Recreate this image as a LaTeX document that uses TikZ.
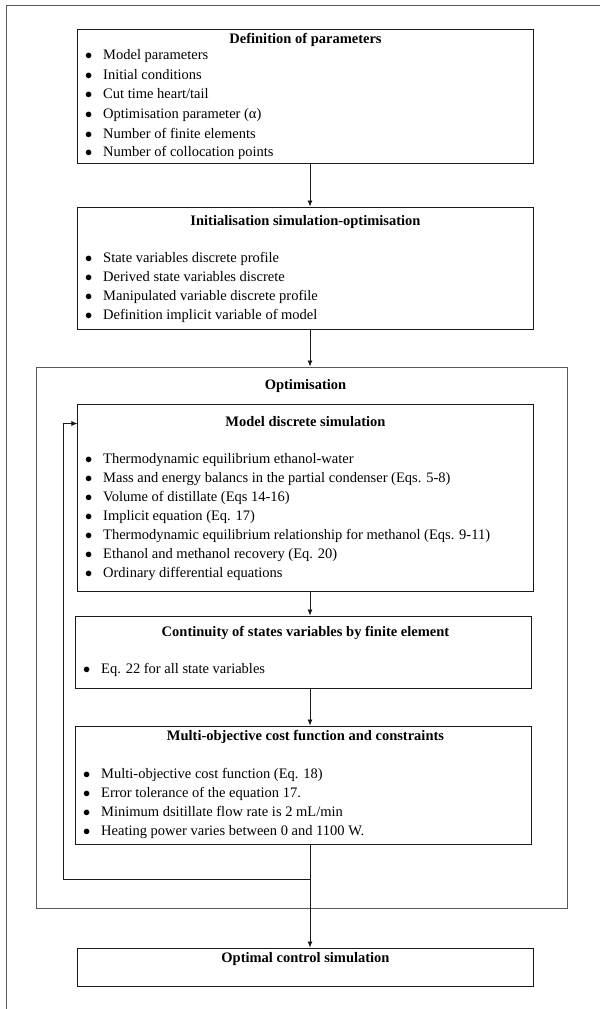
\documentclass[tikz,border=0pt]{standalone}
\usepackage{fontspec}
\setmainfont{Liberation Serif}
\usetikzlibrary{arrows.meta,calc}
\begin{document}
\begin{tikzpicture}[x=1bp,y=-1bp,
  box/.style={draw=black!90, line width=1bp, rectangle, inner sep=0pt},
  outer/.style={draw=black!65, line width=1bp, rectangle, inner sep=0pt},
  ttl/.style={font=\fontsize{14.5bp}{16bp}\selectfont\bfseries, inner sep=0pt, anchor=center},
  itm/.style={font=\fontsize{14.5bp}{16bp}\selectfont, inner sep=0pt, anchor=mid west},
  arr/.style={draw=black!90, line width=0.8bp, -{Latex[length=6bp,width=5bp]}},
  ln/.style={draw=black!90, line width=0.8bp}]
\useasboundingbox (0,0) rectangle (600,1009);
% page frame (left and top edges only visible)
\draw[draw=black!65, line width=1.2bp] (6.8,1009) -- (6.8,5.6) -- (600,5.6);
\newcommand{\bul}{\makebox[17bp][l]{\hspace{-1bp}$\bullet$}}
\coordinate (ax) at (310,0);
% Box 1
\node[box, minimum width=455bp, minimum height=134bp] (b1) at (305.5,96) {};
\node[ttl] (t1) at (305.5,39.5) {Definition of parameters};
\node[itm] (i11) at (86,57.3) {\bul Model parameters};
\node[itm] (i12) at (86,77) {\bul Initial conditions};
\node[itm] (i13) at (86,96.6) {\bul Cut time heart/tail};
\node[itm] (i14) at (86,116.4) {\bul Optimisation parameter (α)};
\node[itm] (i15) at (86,136) {\bul Number of finite elements};
\node[itm] (i16) at (86,154.6) {\bul Number of collocation points};
% Box 2
\node[box, minimum width=455bp, minimum height=122bp] (b2) at (305.5,268) {};
\node[ttl] (t2) at (305.5,221.7) {Initialisation simulation-optimisation};
\node[itm] (i21) at (86,260) {\bul State variables discrete profile};
\node[itm] (i22) at (86,279.3) {\bul Derived state variables discrete};
\node[itm] (i23) at (86,298.7) {\bul Manipulated variable discrete profile};
\node[itm] (i24) at (86,317.7) {\bul Definition implicit variable of model};
% Optimisation frame
\node[outer, minimum width=530bp, minimum height=541bp] (opt) at (302,637.5) {};
\node[ttl] (topt) at (305.5,386.5) {Optimisation};
% Box 3
\node[box, minimum width=455bp, minimum height=187bp] (b3) at (305.5,497.5) {};
\node[ttl] (t3) at (305.5,421.7) {Model discrete simulation};
\node[itm] (i31) at (86,461) {\bul Thermodynamic equilibrium ethanol-water};
\node[itm] (i32) at (86,480) {\bul Mass and energy balancs in the partial condenser (Eqs. 5-8)};
\node[itm] (i33) at (86,499) {\bul Volume of distillate (Eqs 14-16)};
\node[itm] (i34) at (86,518) {\bul Implicit equation (Eq. 17)};
\node[itm] (i35) at (86,537.3) {\bul Thermodynamic equilibrium relationship for methanol (Eqs. 9-11)};
\node[itm] (i36) at (86,556.7) {\bul Ethanol and methanol recovery (Eq. 20)};
\node[itm] (i37) at (86,575.3) {\bul Ordinary differential equations};
% Box 4
\node[box, minimum width=455bp, minimum height=72bp] (b4) at (303.5,652) {};
\node[ttl] (t4) at (305.5,633.3) {Continuity of states variables by finite element};
\node[itm] (i41) at (84,671.7) {\bul Eq. 22 for all state variables};
% Box 5
\node[box, minimum width=455bp, minimum height=118bp] (b5) at (303.5,785) {};
\node[ttl] (t5) at (305.5,736.7) {Multi-objective cost function and constraints};
\node[itm] (i51) at (84,776) {\bul Multi-objective cost function (Eq. 18)};
\node[itm] (i52) at (84,795.3) {\bul Error tolerance of the equation 17.};
\node[itm] (i53) at (84,814.7) {\bul Minimum dsitillate flow rate is 2 mL/min};
\node[itm] (i54) at (84,833.3) {\bul Heating power varies between 0 and 1100 W.};
% Box 6
\node[box, minimum width=455bp, minimum height=38bp] (b6) at (305.5,967) {};
\node[ttl] (t6) at (305.5,959.3) {Optimal control simulation};
% connectors
\draw[arr] (b1.south -| ax) -- (b2.north -| ax);
\draw[arr] (b2.south -| ax) -- (opt.north -| ax);
\draw[arr] (b3.south -| ax) -- (b4.north -| ax);
\draw[arr] (b4.south -| ax) -- (b5.north -| ax);
\draw[arr] (b5.south -| ax) -- (b6.north -| ax);
\coordinate (fbj) at (310,879.5);
\coordinate (fbx) at (63,423.5);
\draw[arr] (fbj) -| (fbx) -- (fbx -| b3.west);
\end{tikzpicture}
\end{document}
